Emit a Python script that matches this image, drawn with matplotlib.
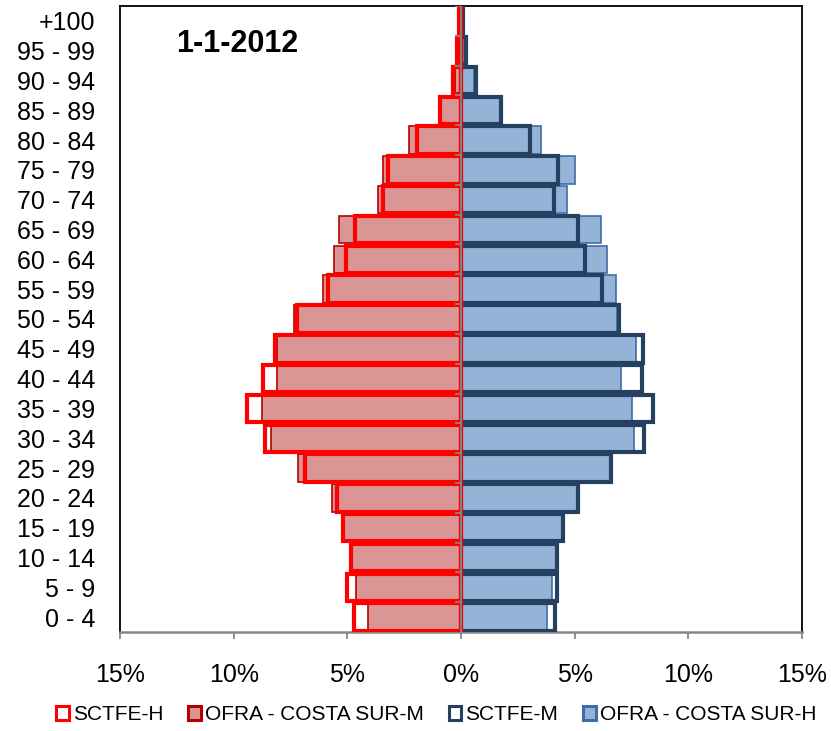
import matplotlib

matplotlib.use("Agg")
import matplotlib.pyplot as plt
from matplotlib.patches import Patch

plt.rcParams["font.family"] = ["Liberation Sans", "DejaVu Sans"]

# age groups, bottom to top
age_groups = ["0 - 4", "5 - 9", "10 - 14", "15 - 19", "20 - 24", "25 - 29", "30 - 34",
              "35 - 39", "40 - 44", "45 - 49", "50 - 54", "55 - 59", "60 - 64", "65 - 69",
              "70 - 74", "75 - 79", "80 - 84", "85 - 89", "90 - 94", "95 - 99", "+100"]

# left side (% of population)
sctfe_h = [4.70, 5.00, 4.83, 5.17, 5.46, 6.88, 8.62, 9.40, 8.72, 8.18, 7.20, 5.85, 5.05,
           4.66, 3.42, 3.23, 1.95, 0.93, 0.33, 0.18, 0.07]
ofra_m = [4.08, 4.62, 4.78, 5.13, 5.66, 7.16, 8.37, 8.74, 8.11, 8.11, 7.33, 6.09, 5.57,
          5.35, 3.67, 3.42, 2.27, 0.88, 0.25, 0.10, 0.03]

# right side
sctfe_m = [4.12, 4.21, 4.24, 4.49, 5.15, 6.59, 8.07, 8.45, 7.95, 8.00, 6.93, 6.19, 5.44,
           5.15, 4.11, 4.26, 3.05, 1.78, 0.65, 0.22, 0.08]
ofra_h = [3.77, 4.00, 4.21, 4.43, 5.10, 6.55, 7.61, 7.54, 7.04, 7.68, 6.88, 6.80, 6.44,
          6.14, 4.65, 5.01, 3.50, 1.76, 0.59, 0.10, 0.03]

x_ticks = [-15, -10, -5, 0, 5, 10, 15]
x_ticklabels = ["15%", "10%", "5%", "0%", "5%", "10%", "15%"]

RED = "#FF0000"
PINK = "#D99694"
PINK_EDGE = "#B80000"
NAVY = "#254061"
BLUE = "#95B3D7"
BLUE_EDGE = "#3F6DA6"
GRAY = "#868686"

fig = plt.figure(figsize=(8.31, 7.31), dpi=100)
ax = fig.add_axes([120 / 831, 1 - 632 / 731, 682 / 831, 626 / 731])

y = list(range(len(age_groups)))
h = 0.92

ax.barh(y, [-v for v in ofra_m], height=h, color=PINK, edgecolor=PINK_EDGE, linewidth=1.2, zorder=2)
ax.barh(y, ofra_h, height=h, color=BLUE, edgecolor=BLUE_EDGE, linewidth=1.2, zorder=2)
ax.barh(y, sctfe_m, height=h, facecolor="none", edgecolor=NAVY, linewidth=3.0, zorder=3)
ax.barh(y, [-v for v in sctfe_h], height=h, facecolor="none", edgecolor=RED, linewidth=3.0, zorder=4)

# category axis at zero, with its small ticks between rows
ax.axvline(0, color=GRAY, lw=1.3, zorder=5)
ax.hlines([k + 0.5 for k in y[:-1]] + [20.5], -0.27, 0, color=GRAY, lw=1.3, zorder=5)

ax.set_xlim(-15, 15)
ax.set_ylim(-0.5, 20.5)
ax.set_xticks(x_ticks)
ax.set_xticklabels(x_ticklabels, fontsize=18)
ax.set_yticks(y)
ax.set_yticklabels(age_groups, fontsize=18)
ax.tick_params(axis="y", length=0, pad=18)
ax.tick_params(axis="x", length=5, width=1.3, color=GRAY, pad=17)

for side in ("left", "top", "right"):
    ax.spines[side].set_color("black")
    ax.spines[side].set_linewidth(1.3)
ax.spines["bottom"].set_color(GRAY)
ax.spines["bottom"].set_linewidth(1.8)

ax.text(0.083, 0.94, "1-1-2012", transform=ax.transAxes, fontsize=22, fontweight="bold",
        ha="left", va="center")

handles = [
    Patch(facecolor="white", edgecolor=RED, linewidth=2.2),
    Patch(facecolor=PINK, edgecolor=PINK_EDGE, linewidth=2.2),
    Patch(facecolor="white", edgecolor=NAVY, linewidth=2.2),
    Patch(facecolor=BLUE, edgecolor=BLUE_EDGE, linewidth=2.2),
]
labels = ["SCTFE-H", "OFRA - COSTA SUR-M", "SCTFE-M", "OFRA - COSTA SUR-H"]
fig.legend(handles, labels, loc="center", bbox_to_anchor=(0.525, 0.022), ncol=4, frameon=False,
           fontsize=15, handlelength=0.6, handleheight=0.6, handletextpad=0.2, columnspacing=1.2,
           borderaxespad=0)

fig.savefig("out.png", dpi=100, facecolor="white")
